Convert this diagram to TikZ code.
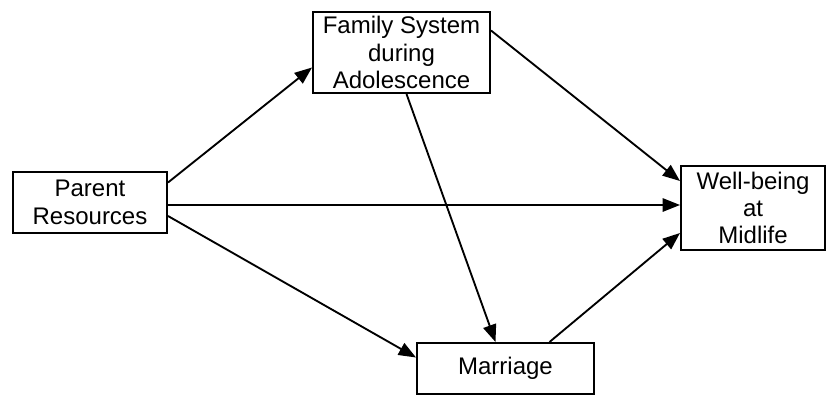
\documentclass[tikz,border=0pt]{standalone}
\usepackage{fontspec}
\setmainfont{Liberation Sans}
\usetikzlibrary{arrows.meta,calc}
\begin{document}
\begin{tikzpicture}[x=0.75pt,y=-0.75pt,
  box/.style={draw,line width=1.5pt,inner sep=0pt,align=center,
    font=\fontsize{18}{20.5}\selectfont},
  conn/.style={line width=1.4pt,-{Triangle[length=13pt,width=10pt]}}]
\useasboundingbox (0,0) rectangle (827,396);
\node[box,minimum width=154*0.75pt,minimum height=61*0.75pt] (pr) at (90,202.5) {Parent\\Resources};
\node[box,minimum width=177*0.75pt,minimum height=81*0.75pt] (fs) at (401.5,52.5) {Family System\\during\\Adolescence};
\node[box,minimum width=144*0.75pt,minimum height=84*0.75pt] (wb) at (753,208) {Well-being\\at\\Midlife};
\node[box,minimum width=177*0.75pt,minimum height=51*0.75pt] (mr) at (505.5,368.5) {Marriage};
\draw[conn] ($(pr.east)+(0,-20)$) -- ($(fs.west)+(0,15)$);
\draw[conn] ($(pr.east)+(0,2.5)$) -- ($(wb.west)+(0,-3)$);
\draw[conn] ($(pr.east)+(0,13.5)$) -- ($(mr.west)+(0,-11)$);
\draw[conn] ($(fs.south)+(5,0)$) -- ($(mr.north)+(-10,0)$);
\draw[conn] ($(fs.east)+(0,-22)$) -- ($(wb.west)+(0,-27)$);
\draw[conn] ($(mr.north)+(44,0)$) -- ($(wb.west)+(0,25)$);
\end{tikzpicture}
\end{document}
